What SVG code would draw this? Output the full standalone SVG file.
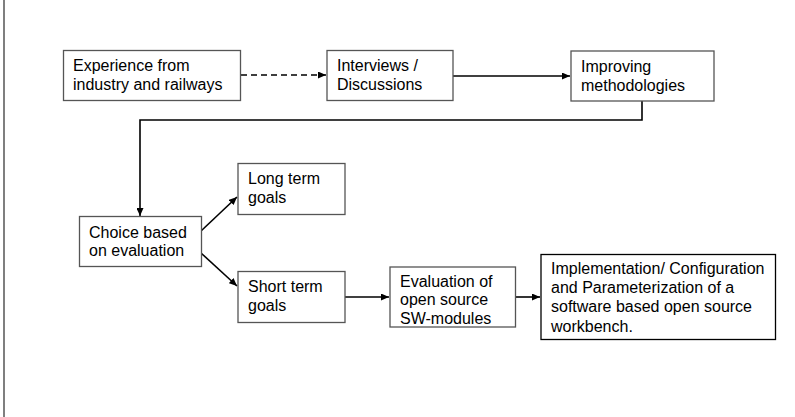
<svg xmlns="http://www.w3.org/2000/svg" width="795" height="417" viewBox="0 0 795 417">
<style>
.box{fill:#fff;stroke:#555;stroke-width:1.3}
.boxk{fill:#fff;stroke:#000;stroke-width:1.3}
.t{font-family:"Liberation Sans",Arial,sans-serif;font-size:16px;fill:#000}
.c{fill:none;stroke:#000;stroke-width:1.6}
</style>
<defs>
<marker id="ah" markerWidth="8" markerHeight="7" refX="8" refY="3.5" orient="auto" markerUnits="userSpaceOnUse">
<path d="M0,0 L8,3.5 L0,7 Z" fill="#000"/>
</marker>
</defs>
<rect width="795" height="417" fill="#fff"/>
<line x1="4" y1="0" x2="4" y2="417" stroke="#555" stroke-width="1.5"/>
<g id="connectors">
<line class="c" x1="241" y1="75" x2="326" y2="75" stroke-dasharray="6,4" marker-end="url(#ah)"/>
<line class="c" x1="453" y1="76" x2="570" y2="76" marker-end="url(#ah)"/>
<polyline class="c" points="642,101 642,120 140,120 140,216" marker-end="url(#ah)"/>
<line class="c" x1="201" y1="231" x2="237" y2="197" marker-end="url(#ah)"/>
<line class="c" x1="201" y1="253" x2="237" y2="286" marker-end="url(#ah)"/>
<line class="c" x1="345" y1="297" x2="389" y2="297" marker-end="url(#ah)"/>
<line class="c" x1="515" y1="297" x2="540" y2="297" marker-end="url(#ah)"/>
</g>
<g id="experience">
<rect class="box" x="63.5" y="50.5" width="177" height="50"/>
<text class="t" x="73" y="71">Experience from</text>
<text class="t" x="73" y="90">industry and railways</text>
</g>
<g id="interviews">
<rect class="box" x="327" y="50.5" width="126" height="50"/>
<text class="t" x="337" y="71">Interviews /</text>
<text class="t" x="337" y="90">Discussions</text>
</g>
<g id="improving">
<rect class="box" x="571" y="51" width="143" height="50"/>
<text class="t" x="581" y="72">Improving</text>
<text class="t" x="581" y="91">methodologies</text>
</g>
<g id="choice">
<rect class="box" x="79.5" y="216.5" width="122" height="50"/>
<text class="t" x="89" y="238">Choice based</text>
<text class="t" x="89" y="256">on evaluation</text>
</g>
<g id="longterm">
<rect class="box" x="238" y="163.5" width="107" height="51"/>
<text class="t" x="248" y="184">Long term</text>
<text class="t" x="248" y="203">goals</text>
</g>
<g id="shortterm">
<rect class="box" x="238" y="271.5" width="107" height="51"/>
<text class="t" x="248" y="292">Short term</text>
<text class="t" x="248" y="311">goals</text>
</g>
<g id="evaluation">
<rect class="box" x="390" y="267" width="125.5" height="60"/>
<text class="t" x="400" y="287">Evaluation of</text>
<text class="t" x="400" y="305">open source</text>
<text class="t" x="400" y="324">SW-modules</text>
</g>
<g id="implementation">
<rect class="boxk" x="541" y="254.5" width="234.5" height="85"/>
<text class="t" x="551" y="274">Implementation/ Configuration</text>
<text class="t" x="551" y="293">and Parameterization of a</text>
<text class="t" x="551" y="312">software based open source</text>
<text class="t" x="551" y="332">workbench.</text>
</g>
</svg>
